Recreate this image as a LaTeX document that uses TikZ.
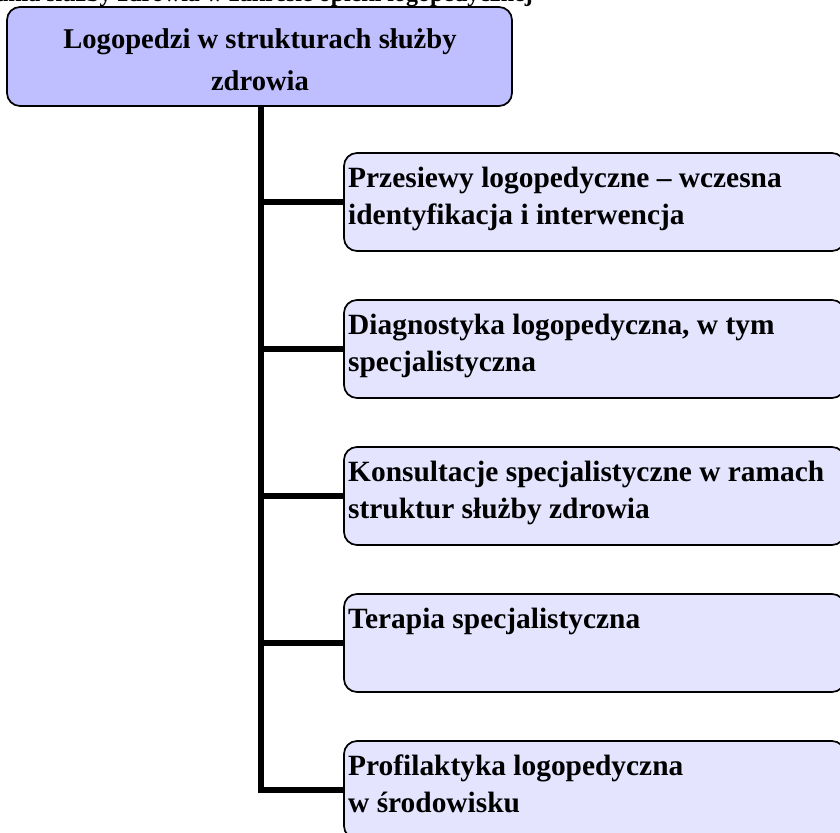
\documentclass[tikz,border=0pt]{standalone}
\usepackage{fontspec}
\setmainfont{Liberation Serif}
\usetikzlibrary{backgrounds}
\definecolor{headfill}{RGB}{191,191,255}
\definecolor{itemfill}{RGB}{228,228,255}
\begin{document}
\begin{tikzpicture}[x=1pt,y=-1pt,
  boxbase/.style={draw=black, line width=1.7pt, rounded corners=13pt,
    inner sep=0pt, outer sep=0pt, anchor=north west},
  headbox/.style={boxbase, fill=headfill, minimum width=505pt, minimum height=99pt},
  itembox/.style={boxbase, fill=itemfill, minimum width=501pt, minimum height=98pt},
  itemtext/.style={anchor=north west, inner sep=0pt, align=left,
    font=\fontsize{29.4}{37}\selectfont\bfseries},
  headtext/.style={anchor=north, inner sep=0pt, align=center,
    font=\fontsize{28.6}{42}\selectfont\bfseries},
  trunk/.style={line width=6pt, line join=miter}
]
\useasboundingbox (0,0) rectangle (840,832);

% caption above the chart (runs past the page top)
\node[anchor=base east, inner sep=0pt, font=\fontsize{24}{28}\selectfont\bfseries]
  (caption) at (533,2) {Zadania służby zdrowia w zakresie opieki logopedycznej};

% head box
\node[headbox] (head) at (7,7) {};
\node[headtext] (headlbl) at (260,28.6) {Logopedzi w strukturach służby\\zdrowia};

% item boxes
\node[itembox] (i1) at (344,153) {};
\node[itembox] (i2) at (344,300) {};
\node[itembox] (i3) at (344,447) {};
\node[itembox] (i4) at (344,594) {};
\node[itembox] (i5) at (344,741) {};

\node[itemtext] (t1) at (348,167) {Przesiewy logopedyczne – wczesna\\identyfikacja i interwencja};
\node[itemtext] (t2) at (348,314) {Diagnostyka logopedyczna, w tym\\specjalistyczna};
\node[itemtext] (t3) at (348,461) {Konsultacje specjalistyczne w ramach\\struktur służby zdrowia};
\node[itemtext] (t4) at (348,608) {Terapia specjalistyczna};
\node[itemtext] (t5) at (348,755) {Profilaktyka logopedyczna\\w środowisku};

% connectors
\begin{scope}[on background layer]
  \coordinate (top) at ([xshift=1.5pt]head.south);
  \draw[trunk] (top) -- (top |- i5.west) -- (i5.west);
  \draw[trunk] (top |- i1.west) -- (i1.west);
  \draw[trunk] (top |- i2.west) -- (i2.west);
  \draw[trunk] (top |- i3.west) -- (i3.west);
  \draw[trunk] (top |- i4.west) -- (i4.west);
\end{scope}
\end{tikzpicture}
\end{document}
